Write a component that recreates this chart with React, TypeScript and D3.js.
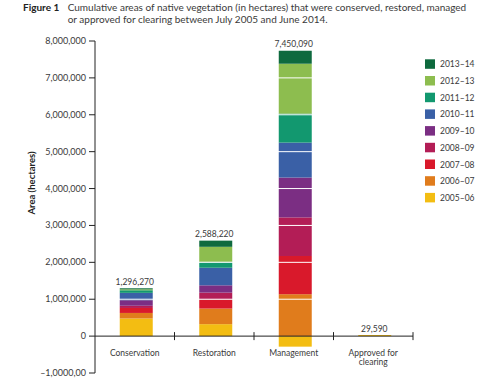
import React from "react";
import * as d3 from "d3";

const categories = ["Conservation", "Restoration", "Management", "Approved for clearing"];
const categoryLines = [["Conservation"], ["Restoration"], ["Management"], ["Approved for", "clearing"]];
const years = ["2005–06", "2006–07", "2007–08", "2008–09", "2009–10", "2010–11", "2011–12", "2012–13", "2013–14"];
const colors = ["#f3bd12", "#e07c1c", "#d9192b", "#b31d56", "#7b2e83", "#3a60a6", "#12986f", "#8dbd4f", "#0e6a3e"];

const v2005 = [478000, 324000, -285910, 29590];
const v2006 = [150000, 423000, 1136000, 0];
const v2007 = [135000, 252000, 1036000, 0];
const v2008 = [60000, 180000, 1047000, 0];
const v2009 = [150000, 198000, 1080000, 0];
const v2010 = [200000, 477000, 947000, 0];
const v2011 = [70000, 162000, 785000, 0];
const v2012 = [25000, 405000, 1353000, 0];
const v2013 = [28270, 167220, 352000, 0];
const totals = [1296270, 2588220, 7450090, 29590];

const yTicks = [-1000000, 0, 1000000, 2000000, 3000000, 4000000, 5000000, 6000000, 7000000, 8000000];
const yTickLabels = ["–1,0000,00", "0", "1,000,000", "2,000,000", "3,000,000", "4,000,000", "5,000,000", "6,000,000", "7,000,000", "8,000,000"];

const seriesValues = [v2005, v2006, v2007, v2008, v2009, v2010, v2011, v2012, v2013];

export default function App() {
  const font = "Lato, 'Open Sans', sans-serif";
  const textColor = "#3a3a3a";
  const x0 = 95, x1 = 413;
  const x = d3.scaleBand<string>().domain(categories).range([x0, x1]).paddingInner(0.585).paddingOuter(0.2925);
  const y = d3.scaleLinear().domain([-1000000, 8000000]).range([373, 41]);

  const rows = categories.map((c, i) => {
    const r: any = { cat: c };
    years.forEach((yr, k) => (r[yr] = seriesValues[k][i]));
    return r;
  });
  const stack = d3.stack<any>().keys(years).offset(d3.stackOffsetDiverging);
  const series = stack(rows);

  const step = x.step();
  const bounds = categories.map((c) => (x(c) as number) + x.bandwidth() / 2 + step / 2);

  return (
    <svg width={499} height={379} style={{ position: "absolute", left: 0, top: 0, background: "#fff" }} fontFamily={font}>
      {/* Title */}
      <text x={23} y={11} fontSize={10} fill="#222">
        <tspan fontWeight="bold">Figure 1</tspan>
      </text>
      <text x={67.7} y={11} fontSize={10} fill={textColor}>
        Cumulative areas of native vegetation (in hectares) that were conserved, restored, managed
      </text>
      <text x={67.7} y={22.5} fontSize={10} fill={textColor}>
        or approved for clearing between July 2005 and June 2014.
      </text>

      {/* Bars */}
      {series.map((s, k) => (
        <g key={years[k]} fill={colors[k]}>
          {s.map((d, i) => {
            const top = y(Math.max(d[0], d[1]));
            const bot = y(Math.min(d[0], d[1]));
            if (bot - top <= 0) return null;
            return (
              <rect key={i} x={(x(categories[i]) as number) + 1.5} y={top} width={x.bandwidth()} height={bot - top} />
            );
          })}
        </g>
      ))}

      {/* white gridlines over bars */}
      {yTicks.filter((t) => t > 0).map((t) => (
        <line key={t} x1={x0 + 1} x2={x1} y1={y(t)} y2={y(t)} stroke="#fff" strokeWidth={1} />
      ))}

      {/* Y axis */}
      <line x1={x0} x2={x0} y1={y(8000000)} y2={y(-1000000)} stroke="#222" strokeWidth={1} />
      {yTicks.map((t, i) => (
        <g key={t}>
          <line x1={x0 - 6} x2={x0} y1={y(t)} y2={y(t)} stroke="#222" strokeWidth={1} />
          <text x={x0 - 9} y={y(t) + 3} fontSize={9} textAnchor="end" fill={textColor}>
            {yTickLabels[i]}
          </text>
        </g>
      ))}
      <text
        transform={`translate(35,${183}) rotate(-90)`}
        fontSize={9.5}
        fontWeight="bold"
        textAnchor="middle"
        fill="#222"
      >
        Area (hectares)
      </text>

      {/* X axis */}
      <line x1={x0} x2={x1} y1={y(0)} y2={y(0)} stroke="#222" strokeWidth={1} />
      {bounds.map((b, i) => (
        <line key={i} x1={b} x2={b} y1={y(0) - 4} y2={y(0) + 4} stroke="#222" strokeWidth={1} />
      ))}
      {categoryLines.map((lines, i) => (
        <text key={i} fontSize={8.5} textAnchor="middle" fill={textColor}>
          {lines.map((l, j) => (
            <tspan key={j} x={(x(categories[i]) as number) + x.bandwidth() / 2} y={356 + j * 8.5}>
              {l}
            </tspan>
          ))}
        </text>
      ))}

      {/* Totals */}
      {totals.map((t, i) => {
        const top = y(Math.max(...series.map((s) => s[i][1])));
        return (
          <text key={i} x={(x(categories[i]) as number) + x.bandwidth() / 2 + (i === 3 ? 1 : 0)} y={top - 3.5} fontSize={8.5} textAnchor="middle" fill={textColor}>
            {d3.format(",")(t)}
          </text>
        );
      })}

      {/* Legend */}
      {years.slice().reverse().map((yr, j) => {
        const k = years.length - 1 - j;
        const yy = 59.3 + j * 16.7;
        return (
          <g key={yr}>
            <rect x={425} y={yy} width={10} height={9.5} fill={colors[k]} />
            <text x={440} y={yy + 8} fontSize={8.5} fill={textColor}>
              {yr}
            </text>
          </g>
        );
      })}
    </svg>
  );
}
